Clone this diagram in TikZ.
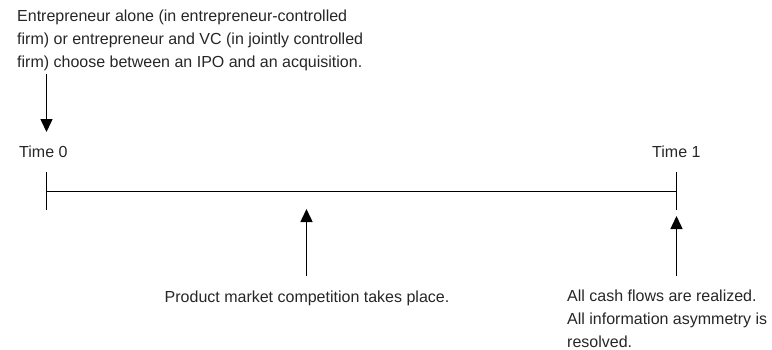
\documentclass[tikz,border=0pt]{standalone}
\usepackage{fontspec}
\setmainfont{Liberation Sans}
\usetikzlibrary{arrows.meta}
\tikzset{
  lbl/.style={inner sep=0pt, align=left, font=\fontsize{16}{23}\selectfont, text=black!85},
  axis/.style={line width=1.5pt},
  pointer/.style={line width=1.5pt, -{Triangle[length=13pt,width=12pt]}}
}
\begin{document}
\begin{tikzpicture}[x=1pt,y=-1pt]
\useasboundingbox (0,0) rectangle (772,349);
% texts (base anchor = baseline of the last line)
\node[lbl, anchor=base west] (top) at (17,67) {Entrepreneur alone (in entrepreneur-controlled\\firm) or entrepreneur and VC (in jointly controlled\\firm) choose between an IPO and an acquisition.};
\node[lbl, anchor=base west] (t0) at (19,157) {Time 0};
\node[lbl, anchor=base west] (t1) at (652,157) {Time 1};
\node[lbl, anchor=base] (mid) at (307,302) {Product market competition takes place.};
\node[lbl, anchor=base west] (right) at (567,347) {All cash flows are realized.\\All information asymmetry is\\resolved.};
% timeline
\coordinate (a0) at (46.5,191.5);
\coordinate (a1) at (676.5,191.5);
\draw[axis] (a0) -- (a1);
\draw[axis] (46.5,172) -- (46.5,210);
\draw[axis] (676.5,172) -- (676.5,210);
% arrows
\coordinate (s0) at (46.5,74);
\coordinate (e0) at (46.5,132);
\draw[pointer] (s0) -- (e0);
\coordinate (s1) at (306.5,276);
\coordinate (e1) at (306.5,209);
\draw[pointer] (s1) -- (e1);
\coordinate (s2) at (676.5,276);
\coordinate (e2) at (676.5,216);
\draw[pointer] (s2) -- (e2);
\end{tikzpicture}
\end{document}
